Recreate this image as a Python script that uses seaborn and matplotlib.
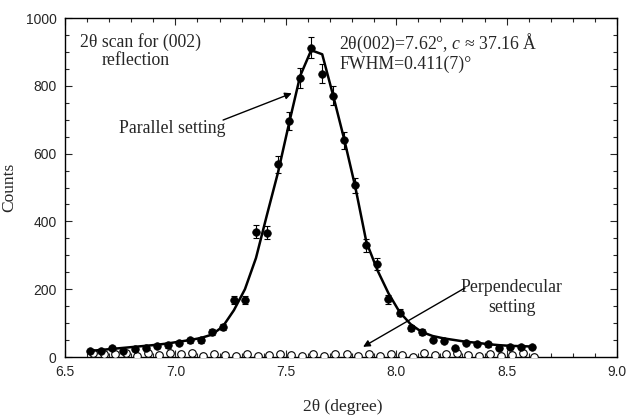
import matplotlib
matplotlib.use("Agg")
import matplotlib.pyplot as plt
from matplotlib.ticker import MultipleLocator
import seaborn as sns
import pandas as pd

# ---- data ----
two_theta = [6.615, 6.665, 6.715, 6.765, 6.815, 6.865, 6.915, 6.965, 7.015, 7.065,
             7.115, 7.165, 7.215, 7.265, 7.315, 7.365, 7.415, 7.465, 7.515, 7.565,
             7.615, 7.665, 7.715, 7.765, 7.815, 7.865, 7.915, 7.965, 8.015, 8.065,
             8.115, 8.165, 8.215, 8.265, 8.315, 8.365, 8.415, 8.465, 8.515, 8.565,
             8.615]
parallel = [18, 18, 27, 18, 23, 27, 32, 34, 40, 49,
            49, 73, 89, 168, 168, 369, 366, 568, 697, 824,
            913, 836, 770, 640, 506, 329, 274, 170, 131, 86,
            74, 50, 47, 27, 40, 38, 37, 27, 30, 30,
            30]
parallel_err = [4, 4, 5, 4, 5, 5, 6, 6, 6, 7,
                7, 9, 9, 13, 13, 19, 19, 24, 26, 29,
                30, 29, 28, 25, 22, 18, 17, 13, 11, 9,
                9, 7, 7, 5, 6, 6, 6, 5, 5, 5,
                5]
fit_curve = [18, 21, 24, 27, 30, 33, 36, 40, 45, 50,
             56, 66, 90, 138, 200, 292, 420, 545, 690, 829,
             905, 893, 770, 641, 501, 339, 256, 188, 133, 97,
             74, 62, 55, 50, 45, 42, 38, 35, 33, 32,
             31]
perp_theta = [6.625, 6.675, 6.725, 6.775, 6.825, 6.875, 6.925, 6.975, 7.025, 7.075,
              7.125, 7.175, 7.225, 7.275, 7.325, 7.375, 7.425, 7.475, 7.525, 7.575,
              7.625, 7.675, 7.725, 7.775, 7.825, 7.875, 7.925, 7.975, 8.025, 8.075,
              8.125, 8.175, 8.225, 8.275, 8.325, 8.375, 8.425, 8.475, 8.525, 8.575,
              8.625]
perpendicular = [12, 8, 10, 13, 4, 11, 6, 12, 10, 12,
                 3, 10, 7, 3, 8, 2, 6, 10, 7, 4,
                 8, 4, 10, 8, 2, 10, 4, 10, 6, 1,
                 11, 5, 9, 12, 7, 4, 9, 2, 6, 11,
                 -1]

df_par = pd.DataFrame({"x": two_theta, "y": parallel, "err": parallel_err})
df_fit = pd.DataFrame({"x": two_theta, "y": fit_curve})
df_perp = pd.DataFrame({"x": perp_theta, "y": perpendicular})

sns.set_style("ticks")
plt.rcParams["mathtext.fontset"] = "custom"
plt.rcParams["mathtext.rm"] = "Liberation Serif"
plt.rcParams["mathtext.it"] = "Liberation Serif:italic"

fig = plt.figure(figsize=(6.32, 4.16), dpi=100)
ax = fig.add_axes([0.1028, 0.1418, 0.8735, 0.8149])

serif = "Liberation Serif"
sans = "Liberation Sans"
fs = 12.8

# perpendicular (open circles)
sns.scatterplot(data=df_perp, x="x", y="y", ax=ax, marker="o", s=30,
                facecolor="white", edgecolor="black", linewidth=0.8, zorder=3)
# fit line
sns.lineplot(data=df_fit, x="x", y="y", ax=ax, color="black", lw=1.8, zorder=4)
# parallel error bars and points
ax.errorbar(df_par["x"], df_par["y"], yerr=df_par["err"], fmt="none",
            ecolor="black", elinewidth=0.8, capsize=2.5, capthick=0.8, zorder=4)
sns.scatterplot(data=df_par, x="x", y="y", ax=ax, marker="o", s=30,
                color="black", edgecolor="black", linewidth=0.5, zorder=5)

ax.set_xlim(6.5, 9.0)
ax.set_ylim(0, 1000)
ax.xaxis.set_major_locator(MultipleLocator(0.5))
ax.xaxis.set_minor_locator(MultipleLocator(0.1))
ax.yaxis.set_major_locator(MultipleLocator(200))
ax.yaxis.set_minor_locator(MultipleLocator(50))
ax.set_xticks([6.5, 7.0, 7.5, 8.0, 8.5, 9.0])
ax.set_xticklabels(["6.5", "7.0", "7.5", "8.0", "8.5", "9.0"])
ax.tick_params(which="both", direction="in", top=True, right=True,
               labelsize=10, pad=6)
ax.tick_params(which="major", length=5, width=0.8)
ax.tick_params(which="minor", length=3, width=0.8)
for lab in ax.get_xticklabels() + ax.get_yticklabels():
    lab.set_family(sans)
for sp in ax.spines.values():
    sp.set_linewidth(1.0)
    sp.set_color("black")

ax.set_xlabel("2θ (degree)", family=serif, fontsize=12.5)
ax.xaxis.set_label_coords(0.504, -0.125)
ax.set_ylabel("Counts", family=serif, fontsize=12.5)
ax.yaxis.set_label_coords(-0.087, 0.5)

# text blocks (each line placed separately)
ax.text(6.568, 930, "2θ scan for (002)", family=serif, fontsize=fs,
        ha="left", va="center")
ax.text(6.666, 876, "reflection", family=serif, fontsize=fs,
        ha="left", va="center")
ax.text(7.741, 926, "2θ(002)=7.62°, $c$ ≈ 37.16 Å", family=serif, fontsize=fs,
        ha="left", va="center")
ax.text(7.741, 864, "FWHM=0.411(7)°", family=serif, fontsize=fs,
        ha="left", va="center")
ax.text(6.987, 674, "Parallel setting", family=serif, fontsize=fs,
        ha="center", va="center")
ax.text(8.524, 206, "Perpendecular", family=serif, fontsize=fs,
        ha="center", va="center")
ax.text(8.524, 145, "setting", family=serif, fontsize=fs,
        ha="center", va="center")

arrow = dict(arrowstyle="-|>", color="black", lw=1.0, mutation_scale=10,
             shrinkA=0, shrinkB=0)
ax.annotate("", xy=(7.527, 778), xytext=(7.216, 699), arrowprops=arrow)
ax.annotate("", xy=(7.85, 30), xytext=(8.312, 204), arrowprops=arrow)

fig.savefig("out.png", dpi=100)
